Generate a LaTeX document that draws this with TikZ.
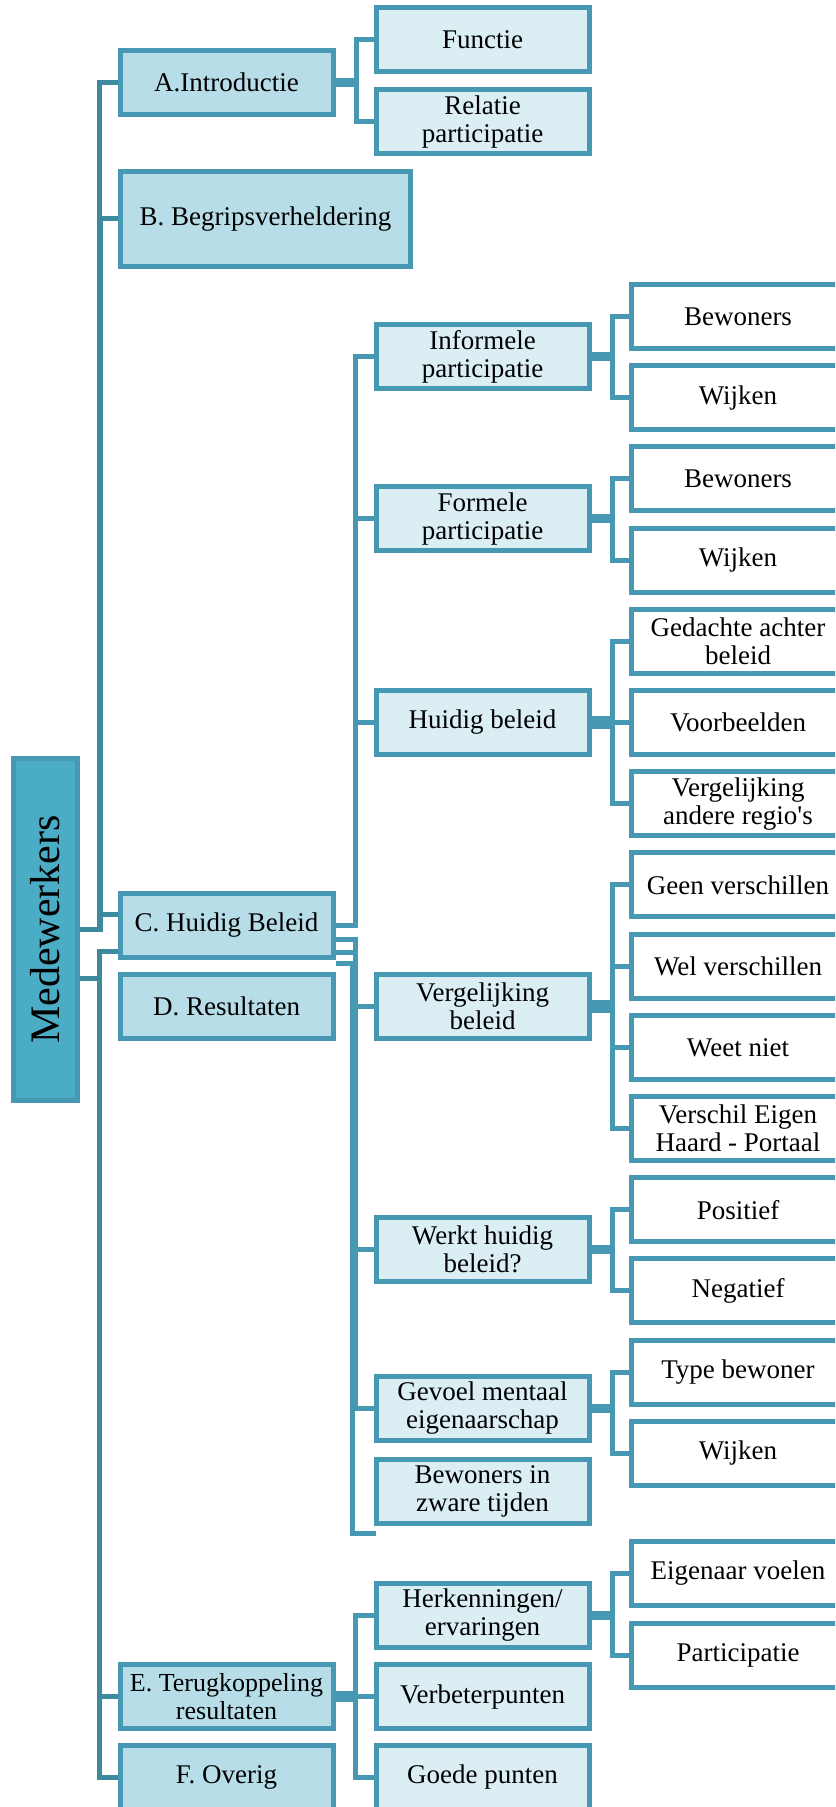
\documentclass[tikz,border=0pt]{standalone}
\usepackage{fontspec}
\usepackage{graphicx}
\setmainfont{Liberation Serif}[Ligatures=TeXOff]

\definecolor{lineMW}{HTML}{4799B3}
\definecolor{trunkMW}{HTML}{3D8A9F}
\definecolor{rootMW}{HTML}{4BACC6}
\definecolor{oneMW}{HTML}{B7DDE8}
\definecolor{twoMW}{HTML}{DAEEF3}

\newcommand\boxfont{\fontsize{13.5}{14}\selectfont}

\tikzset{
  box/.style={draw=lineMW, line width=2.5pt, minimum width=106.5pt, minimum height=32pt,
    align=center, inner sep=0.5pt, font=\boxfont},
  rootbox/.style={box, fill=rootMW, minimum width=32pt, minimum height=171pt,
    font=\fontsize{21}{24}\selectfont},
  lvlone/.style={box, fill=oneMW},
  lvltwo/.style={box, fill=twoMW},
  lvlthree/.style={box, fill=white},
  link/.style={draw=lineMW, line width=2.5pt},
  trunk/.style={draw=trunkMW, line width=2.5pt},
}

\begin{document}
\begin{tikzpicture}[x=0.5pt, y=-0.5pt]
\clip (0,0) rectangle (835,1807);

% root and first level
\node[rootbox] (mw) at (45.5,929.5) {\rotatebox{90}{Medewerkers}};
\node[lvlone] (intro) at (226.5,82.5) {A.Introductie};
\node[lvlone, minimum width=145pt, minimum height=47.5pt] (begrip) at (265.5,219) {B. Begripsverheldering};
\node[lvlone] (huidig) at (226.5,925) {C. Huidig Beleid};
\node[lvlone] (result) at (226.5,1006.5) {D. Resultaten};
\node[lvlone, font=\fontsize{13}{14}\selectfont] (terug) at (226.5,1696.5) {E. Terugkoppeling\\resultaten};
\node[lvlone] (overig) at (226.5,1777) {F. Overig};

% second level
\node[lvltwo] (functie) at (482.5,40) {Functie};
\node[lvltwo] (relatie) at (482.5,122) {Relatie\\participatie};
\node[lvltwo] (informeel) at (482.5,357) {Informele\\participatie};
\node[lvltwo] (formeel) at (482.5,519) {Formele\\participatie};
\node[lvltwo] (hb) at (482.5,722) {Huidig beleid};
\node[lvltwo] (vb) at (482.5,1006) {Vergelijking\\beleid};
\node[lvltwo] (werkt) at (482.5,1249.5) {Werkt huidig\\beleid?};
\node[lvltwo] (gevoel) at (482.5,1408) {Gevoel mentaal\\eigenaarschap};
\node[lvltwo] (zwaar) at (482.5,1491) {Bewoners in\\zware tijden};
\node[lvltwo] (herk) at (482.5,1615) {Herkenningen/\\ervaringen};
\node[lvltwo] (verb) at (482.5,1696.5) {Verbeterpunten};
\node[lvltwo] (goed) at (482.5,1777) {Goede punten};

% third level
\foreach \nm/\txt [count=\k from 0] in {infbew/Bewoners, infwijk/Wijken,
    forbew/Bewoners, forwijk/Wijken, hbged/Gedachte achter\\beleid,
    hbvb/Voorbeelden, hbvgl/Vergelijking\\andere regio's, vbgeen/Geen verschillen,
    vbwel/Wel verschillen, vbweet/Weet niet, vbeh/Verschil Eigen\\Haard - Portaal,
    wkpos/Positief, wkneg/Negatief, gvtype/Type bewoner, gvwijk/Wijken} {
  \node[lvlthree] (\nm) at (738,316.5+81.2*\k) {\txt};
}
\node[lvlthree] (hkeig) at (738,1573.5) {Eigenaar voelen};
\node[lvlthree] (hkpart) at (738,1655.5) {Participatie};

% trunk
\foreach \c in {intro,begrip}
  \draw[trunk] (mw.east) -| ([xshift=-9pt]\c.west) -- (\c.west);
\draw[trunk] (mw.east) -| ([xshift=-9pt,yshift=5.5pt]huidig.west) -- ([yshift=5.5pt]huidig.west);
\draw[trunk] ([yshift=-24.5pt]mw.east) -| ([xshift=-9pt,yshift=-13pt]huidig.west) -- ([yshift=-13pt]huidig.west);
\foreach \c in {terug,overig}
  \draw[trunk] ([yshift=-24.5pt]mw.east) -| ([xshift=-9pt]\c.west) -- (\c.west);

% second level links
\foreach \c/\dy in {functie/1, relatie/-1}
  \draw[link] ([yshift=\dy pt]intro.east) -| ([xshift=-8.5pt]\c.west) -- (\c.west);
\foreach \c/\dy in {informeel/0, formeel/0, hb/0, vb/-7, werkt/-13.5, gevoel/-13.5}
  \draw[link] ([yshift=\dy pt]huidig.east) -| ([xshift=-9pt]\c.west) -- (\c.west);
\coordinate (zwaarend) at ([xshift=1pt,yshift=-4pt]zwaar.south west);
\draw[link] ([yshift=-19pt]huidig.east) -| ([xshift=-11.5pt]zwaarend) -- (zwaarend);
\foreach \c/\dy in {herk/1.5, verb/0, goed/-1.5}
  \draw[link] ([yshift=\dy pt]terug.east) -| ([xshift=-9pt]\c.west) -- (\c.west);

% third level links
\foreach \p/\c/\dy in {informeel/infbew/1, informeel/infwijk/-1,
    formeel/forbew/1, formeel/forwijk/-1,
    hb/hbged/2, hb/hbvb/0, hb/hbvgl/-2,
    vb/vbgeen/2, vb/vbwel/1, vb/vbweet/-1, vb/vbeh/-2,
    werkt/wkpos/1, werkt/wkneg/-1, gevoel/gvtype/1, gevoel/gvwijk/-1,
    herk/hkeig/1, herk/hkpart/-1}
  \draw[link] ([yshift=\dy pt]\p.east) -| ([xshift=-8.5pt]\c.west) -- (\c.west);
\end{tikzpicture}
\end{document}
